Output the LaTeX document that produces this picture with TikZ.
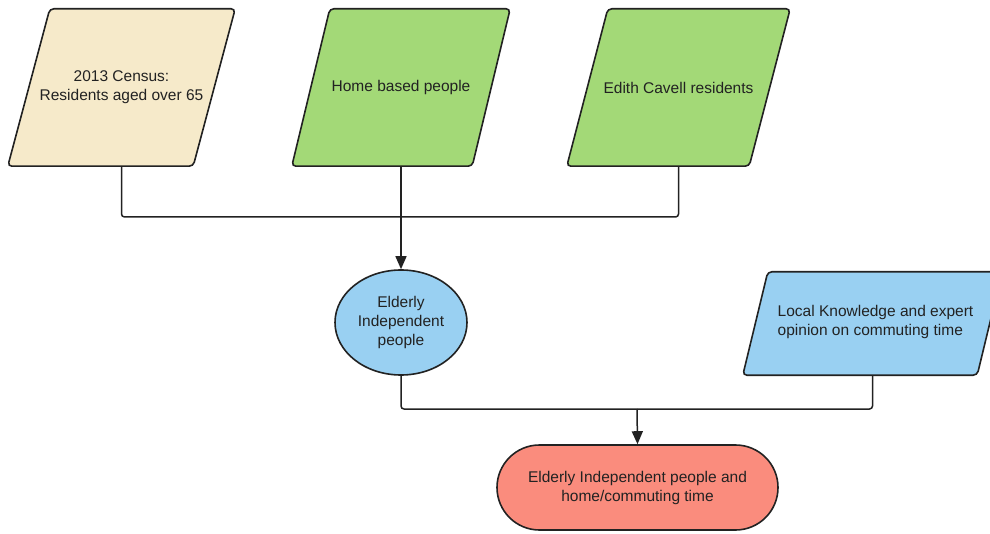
\documentclass[tikz,border=0pt]{standalone}
\usepackage{fontspec}
\setmainfont{Liberation Sans}
\usetikzlibrary{shapes.geometric,shapes.misc,arrows.meta}
\definecolor{beige}{RGB}{246,234,202}
\definecolor{lgreen}{RGB}{163,217,119}
\definecolor{lblue}{RGB}{153,208,242}
\definecolor{salmon}{RGB}{250,140,125}
\definecolor{ink}{RGB}{34,34,34}
\tikzset{
  lbl/.style={font=\fontsize{15.5}{19}\selectfont, text=ink, inner sep=0pt},
  holder/.style={lbl, rectangle, minimum width=#1},
  shapeline/.style={draw=ink, line width=1.6pt, rounded corners=4pt},
  conn/.style={draw=ink, line width=1.5pt, rounded corners=3pt},
  arr/.style={draw=ink, line width=1.5pt, -{Triangle[length=13pt,width=11pt]}},
}
\begin{document}
\begin{tikzpicture}[x=1pt,y=-1pt]
\clip (0,0) rectangle (990,534);
\fill[white] (0,0) rectangle (990,534);
% parallelogram input nodes (holders give anchors)
\node[lbl, minimum width=227pt, minimum height=157pt, align=center] (census) at (121.5,87.5) {};
\node[lbl, minimum width=218pt, minimum height=157pt] (home) at (401,87.5) {};
\node[lbl, minimum width=223pt, minimum height=157pt] (edith) at (678.5,87.5) {};
\node[lbl, minimum width=259pt, minimum height=103pt] (local) at (872.5,323.5) {};
% shapes
\path[shapeline, fill=beige] ([xshift=42pt]census.north west) -- (census.north east) -- ([xshift=-42pt]census.south east) -- (census.south west) -- cycle;
\path[shapeline, fill=lgreen] ([xshift=38pt]home.north west) -- (home.north east) -- ([xshift=-38pt]home.south east) -- (home.south west) -- cycle;
\path[shapeline, fill=lgreen] ([xshift=41pt]edith.north west) -- (edith.north east) -- ([xshift=-41pt]edith.south east) -- (edith.south west) -- cycle;
\path[shapeline, fill=lblue] ([xshift=25pt]local.north west) -- (local.north east) -- ([xshift=-25pt]local.south east) -- (local.south west) -- cycle;
% texts
\node[lbl, align=center] at (census.center) {2013 Census:\\Residents aged over 65};
\node[lbl] at (home.center) {Home based people};
\node[lbl] at (edith.center) {Edith Cavell residents};
\node[lbl, align=left] at ([xshift=3pt,yshift=1.5pt]local.center) {Local Knowledge and expert\\opinion on commuting time};
% ellipse and terminal
\node[lbl, ellipse, draw=ink, line width=1.6pt, fill=lblue, minimum width=132pt, minimum height=105pt, align=center] (elder) at (401,322.5) {Elderly\\Independent\\people};
\node[lbl, rounded rectangle, draw=ink, line width=1.6pt, fill=salmon, minimum width=281pt, minimum height=85pt, align=center] (term) at (637.5,487.5) {Elderly Independent people and\\home/commuting time};
% connectors
\coordinate (j1) at (401,217);
\coordinate (j2) at (637,409);
\draw[conn] (census.south) |- (j1) -| (edith.south);
\draw[arr] (home.south) -- (elder.north);
\draw[conn] (elder.south) |- (j2) -| (local.south);
\draw[arr] (j2) -- (term.north);
\end{tikzpicture}
\end{document}
